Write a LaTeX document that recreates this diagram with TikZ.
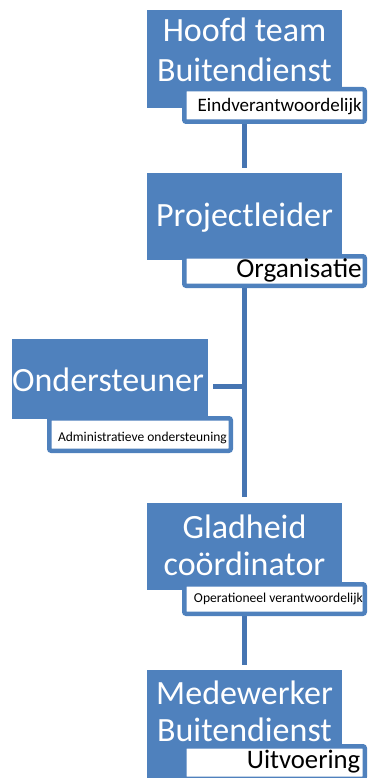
\documentclass[tikz,border=0pt]{standalone}
\usepackage{fontspec}
\setmainfont{Carlito}
\definecolor{rolefill}{HTML}{4F81BD}
\definecolor{linkblue}{HTML}{4675B2}
\tikzset{
	rolebox/.style = {
		fill=rolefill,
		inner sep=0mm
	},
	rolename/.style = {
		text=white,
		inner sep=0mm,
		anchor=base,
		align=center,
		font=\fontsize{34}{37}\selectfont
	},
	taskbox/.style = {
		draw=rolefill,
		fill=white,
		line width=4.5pt,
		rounded corners=2pt,
		inner sep=0mm
	},
	tasktext/.style = {
		text=black,
		inner sep=0mm,
		anchor=base east
	},
	link/.style = {
		draw=linkblue,
		line width=5pt
	}
}

\begin{document}
\begin{tikzpicture}[
		x=1pt, y=-1pt,
	]

	% The canvas, one unit per pixel
	\useasboundingbox (0,0) rectangle (367,778);

	% Draw the blue role boxes
	\node[rolebox, minimum width=195pt, minimum height=98pt] (hoofd) at (244.5,59) {};
	\node[rolebox, minimum width=195pt, minimum height=87pt] (proj) at (244.5,216.5) {};
	\node[rolebox, minimum width=196pt, minimum height=80pt] (onder) at (110,379) {};
	\node[rolebox, minimum width=195pt, minimum height=87pt] (glad) at (244.5,546.5) {};
	\node[rolebox, minimum width=195pt, minimum height=112pt] (mede) at (244.5,726) {};

	% Draw the connectors
	\coordinate (junction) at (244.5,386.5);
	\draw[link] (hoofd.south) -- ([yshift=5pt]proj.north);
	\draw[link] (proj.south) -- ([yshift=6pt]glad.north);
	\draw[link] (glad.south) -- ([yshift=5pt]mede.north);
	\draw[link] ([xshift=5pt]onder.east |- junction) -- (junction);

	% Draw the white task boxes
	\node[taskbox, minimum width=180.5pt, minimum height=32.5pt] (hoofdtask) at (274.5,105.5) {};
	\node[taskbox, minimum width=180.5pt, minimum height=29.5pt] (projtask) at (274.5,271) {};
	\node[taskbox, minimum width=181.5pt, minimum height=32.5pt] (ondertask) at (140,434.5) {};
	\node[taskbox, minimum width=180.5pt, minimum height=29.5pt] (gladtask) at (274.5,599) {};
	\node[taskbox, minimum width=180.5pt, minimum height=32.5pt] (medetask) at (274.5,762.5) {};

	% The role names (base is the last line)
	\node[rolename, font=\fontsize{34}{40}\selectfont] (hoofdname) at (244.5,81.7) {Hoofd team\\Buitendienst};
	\node[rolename] (projname) at (244.5,226.7) {Projectleider};
	\node[rolename] (ondername) at (108,391.7) {Ondersteuner};
	\node[rolename] (gladname) at (244.5,575) {Gladheid\\coördinator};
	\node[rolename] (medename) at (244.5,741.7) {Medewerker\\Buitendienst};

	% The tasks
	\node[tasktext, font=\fontsize{19}{21}\selectfont] (hoofdtext) at (362,111.7) {Eindverantwoordelijk};
	\node[tasktext, font=\fontsize{27.3}{29}\selectfont] (projtext) at (362,277) {Organisatie};
	\node[tasktext, font=\fontsize{13.5}{15}\selectfont] (ondertext) at (227,441.7) {Administratieve ondersteuning};
	\node[tasktext, font=\fontsize{13.6}{15}\selectfont] (gladtext) at (363,602.7) {Operationeel verantwoordelijk};
	\node[tasktext, font=\fontsize{26.7}{28}\selectfont] (medetext) at (360.5,768.3) {Uitvoering};

\end{tikzpicture}
\end{document}
